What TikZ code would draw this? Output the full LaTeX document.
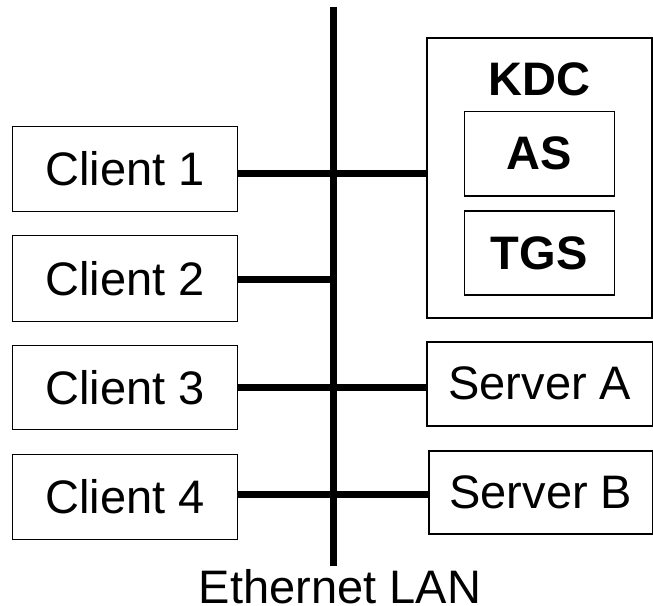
\documentclass[tikz,border=0pt]{standalone}
\usepackage{fontspec}
\setmainfont{Liberation Sans}
\usetikzlibrary{positioning, calc}

\begin{document}
\begin{tikzpicture}[x=1bp, y=-1bp,
    box/.style={rectangle, draw, line width=1.4bp, inner sep=0pt, text centered, font=\fontsize{47bp}{56bp}\selectfont},
    sub/.style={box, minimum width=150bp, minimum height=84bp, font=\fontsize{47bp}{56bp}\selectfont\bfseries},
    link/.style={line width=7bp}]

\useasboundingbox (0,0) rectangle (653,606);

% the LAN backbone
\coordinate (bustop) at (333.5,7);
\coordinate (busend) at (333.5,566);
\draw[link] (bustop) -- (busend);
\node[font=\fontsize{47bp}{56bp}\selectfont, anchor=base, inner sep=0pt, text depth=0pt] (lan) at (340,603) {Ethernet LAN};

% clients on the left
\node[box, minimum width=225bp, minimum height=85bp] (c1) at (125.2,169.2) {Client 1};
\node[box, minimum width=225bp, minimum height=86bp] (c2) at (125.2,278.7) {Client 2};
\node[box, minimum width=225bp, minimum height=84bp] (c3) at (125.2,387.2) {Client 3};
\node[box, minimum width=225bp, minimum height=85bp] (c4) at (125.2,496.7) {Client 4};

% key distribution centre with its two services
\node[box, minimum width=225bp, minimum height=280bp] (kdc) at (539.5,178) {};
\node[font=\fontsize{47bp}{56bp}\selectfont\bfseries] (kdclabel) at (539.5,79) {KDC};
\node[sub] (as) at (539.3,153.8) {AS};
\node[sub] (tgs) at (539.3,253) {TGS};

% servers
\node[box, minimum width=226bp, minimum height=84bp] (sa) at (539.8,383.8) {Server A};
\node[box, minimum width=224bp, minimum height=83bp] (sb) at (540.8,492.3) {Server B};

\draw[link] (c1.east |- 0,174) -- (kdc.west |- 0,174);
\draw[link] (c2.east |- 0,279) -- (bustop |- 0,279);
\draw[link] (c3.east |- 0,387.5) -- (sa.west |- 0,387.5);
\draw[link] (c4.east |- 0,494) -- (sb.west |- 0,494);

\end{tikzpicture}
\end{document}
